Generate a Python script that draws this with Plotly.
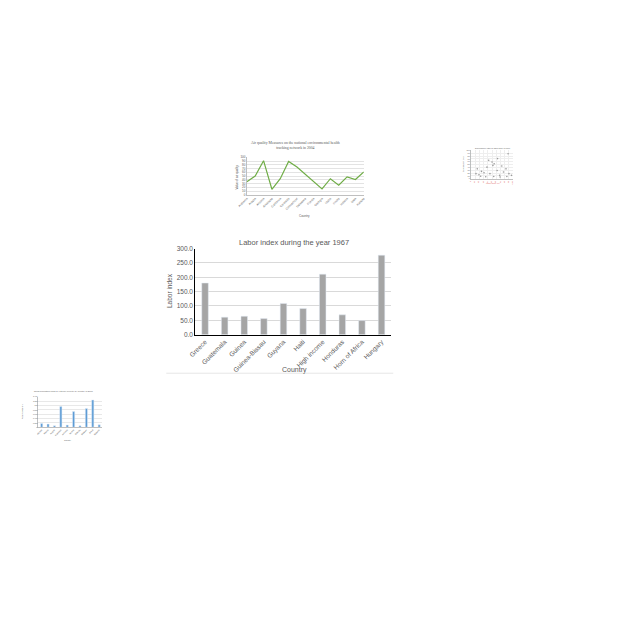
import plotly.graph_objects as go

# ---- main chart data ----
countries = ["Greece", "Guatemala", "Guinea", "Guinea-Bissau", "Guyana", "Haiti",
             "High income", "Honduras", "Horn of Africa", "Hungary"]
labor_index = [180.0, 61.0, 64.0, 56.0, 109.0, 91.0, 211.0, 69.0, 49.0, 277.0]
main_ticks = [0, 50, 100, 150, 200, 250, 300]
main_tick_labels = ["0.0", "50.0", "100.0", "150.0", "200.0", "250.0", "300.0"]

# ---- small line chart data (thumbnail) ----
aq_states = ["Alabama", "Alaska", "Arizona", "Arkansas", "California", "Colorado",
             "Connecticut", "Delaware", "Florida", "Georgia", "Idaho", "Illinois",
             "Indiana", "Iowa", "Kansas"]
aq_values = [35, 50, 91, 15, 43, 89, 74, 54, 35, 16, 43, 26, 48, 41, 61]

# ---- small scatter data (thumbnail) ----
sc_x = [12, 19, 25, 31, 38, 45, 50, 52, 55, 62, 68, 73, 77, 83, 88, 90, 96, 23, 35, 54, 69, 85, 15, 42, 63]
sc_y = [18, 14, 26, 21, 41, 18, 59, 47, 53, 29, 12, 45, 24, 35, 88, 18, 12, 9, 7, 8, 6, 8, 35, 65, 71]

# ---- small bar chart data (thumbnail) ----
sb_names = ["Albania", "Algeria", "Angola", "Argentina", "Armenia", "Austria",
            "Bahrain", "Belgium", "Brazil", "Bulgaria"]
sb_values = [180000, 150000, 75000, 950000, 105000, 720000, 75000, 860000, 1250000, 120000]

TXT = "#595959"
FONT = "Liberation Sans, Arial, sans-serif"

fig = go.Figure()

fig.add_trace(go.Bar(x=countries, y=labor_index, marker_color="#a5a5a5",
                     xaxis="x", yaxis="y", showlegend=False))
fig.add_trace(go.Scatter(x=aq_states, y=aq_values, mode="lines",
                         line=dict(color="#70ad47", width=1.2),
                         xaxis="x2", yaxis="y2", showlegend=False))
fig.add_trace(go.Scatter(x=sc_x, y=sc_y, mode="markers",
                         marker=dict(color="#9a9a9a", size=1.6),
                         xaxis="x3", yaxis="y3", showlegend=False))
fig.add_trace(go.Bar(x=sb_names, y=sb_values, marker_color="#5b9bd5",
                     xaxis="x4", yaxis="y4", showlegend=False))

fig.update_layout(
    width=640, height=640, margin=dict(l=0, r=0, t=0, b=0),
    paper_bgcolor="white", plot_bgcolor="white",
    font=dict(family=FONT, color=TXT),
    bargap=0.665,
    xaxis=dict(domain=[189.5/640, 389/640], anchor="y", showline=True, linecolor="black",
               linewidth=1, tickangle=-45, tickfont=dict(size=6.5, color=TXT),
               ticks="", showgrid=False, fixedrange=True),
    yaxis=dict(domain=[1-334.3/640, 1-247.3/640], anchor="x", range=[0, 300],
               tickvals=main_ticks, ticktext=main_tick_labels,
               tickfont=dict(size=6.5, color=TXT), showline=True, linecolor="black",
               linewidth=1, gridcolor="#d9d9d9", gridwidth=0.6, zeroline=False, ticks=""),
    xaxis2=dict(domain=[242/640, 361/640], anchor="y2", showline=True, linecolor="#bfbfbf",
                linewidth=0.6, tickangle=-45, tickfont=dict(size=3, color=TXT),
                ticks="", showgrid=False),
    yaxis2=dict(domain=[1-193/640, 1-155/640], anchor="x2", range=[0, 100], dtick=10,
                tickfont=dict(size=3, color=TXT), showline=True, linecolor="#bfbfbf",
                linewidth=0.6, gridcolor="#e3e3e3", gridwidth=0.5, zeroline=False, ticks=""),
    xaxis3=dict(domain=[470/640, 513/640], anchor="y3", range=[0, 100], dtick=10,
                tickfont=dict(size=2, color="#e06666"), showline=True, linecolor="#bfbfbf",
                linewidth=0.5, gridcolor="#eeeeee", gridwidth=0.4, zeroline=False, ticks=""),
    yaxis3=dict(domain=[1-176.7/640, 1-148/640], anchor="x3", range=[0, 100], dtick=10,
                tickfont=dict(size=2, color=TXT), showline=True, linecolor="#bfbfbf",
                linewidth=0.5, gridcolor="#eeeeee", gridwidth=0.4, zeroline=False, ticks=""),
    xaxis4=dict(domain=[30/640, 95/640], anchor="y4", showline=True, linecolor="#bfbfbf",
                linewidth=0.5, tickangle=-45, tickfont=dict(size=2, color=TXT),
                ticks="", showgrid=False),
    yaxis4=dict(domain=[1-428/640, 1-397/640], anchor="x4", range=[0, 1400000], dtick=200000,
                tickfont=dict(size=2, color=TXT), showline=True, linecolor="#bfbfbf",
                linewidth=0.5, gridcolor="#e8e8e8", gridwidth=0.4, zeroline=False, ticks=""),
)

ann = [
    # main chart
    dict(text="Labor index during the year 1967", x=290/640, y=1-241/640,
         font=dict(size=7.5, color=TXT)),
    dict(text="Country", x=290/640, y=1-370/640, font=dict(size=7, color=TXT)),
    dict(text="Labor index", x=164/640, y=1-290/640, textangle=-90,
         font=dict(size=6.5, color=TXT)),
    # line thumbnail
    dict(text="Air quality Measures on the national environmental health<br>tracking network in 2004",
         x=292/640, y=1-143.5/640, font=dict(size=3.8, color=TXT,
         family="Liberation Serif, serif")),
    dict(text="Country", x=301/640, y=1-214/640, font=dict(size=3, color=TXT)),
    dict(text="Value of air quality", x=232.5/640, y=1-175/640, textangle=-90,
         font=dict(size=3, color=TXT)),
    # scatter thumbnail
    dict(text="Dependency ratio of labor force in 1990", x=492/640, y=1-146/640,
         font=dict(size=2, color=TXT)),
    dict(text="Labor force (%)", x=492/640, y=1-181/640, font=dict(size=2, color="#e06666")),
    dict(text="Dependency ratio", x=462/640, y=1-162/640, textangle=-90,
         font=dict(size=2, color=TXT)),
    # bar thumbnail
    dict(text="Rural population living in extreme poverty by country in 2008",
         x=55/640, y=1-391/640, font=dict(size=2.2, color=TXT)),
    dict(text="Country", x=60/640, y=1-441/640, font=dict(size=2, color=TXT)),
    dict(text="Rural population", x=14/640, y=1-412/640, textangle=-90,
         font=dict(size=2, color=TXT)),
]
for a in ann:
    a.update(xref="paper", yref="paper", showarrow=False, xanchor="center", yanchor="middle")
fig.update_layout(annotations=ann)

fig.add_shape(type="line", xref="paper", yref="paper", x0=160/640, x1=391/640,
              y0=1-373.3/640, y1=1-373.3/640, line=dict(color="#e6e6e6", width=1))

fig.write_html("out.html", config={"displayModeBar": False},
               post_script="document.body.style.margin='0';document.body.style.overflow='hidden';")
